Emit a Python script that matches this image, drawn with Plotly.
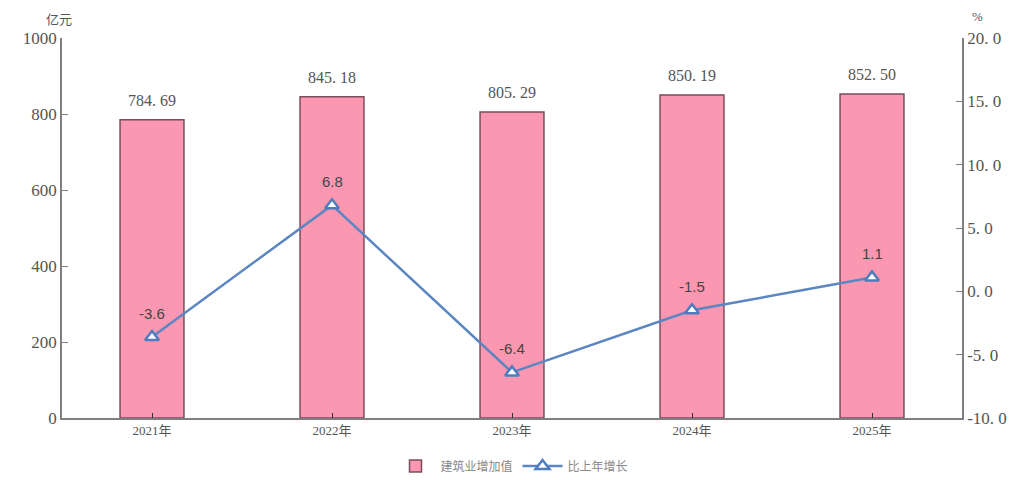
import plotly.graph_objects as go

# data
years = ["2021年", "2022年", "2023年", "2024年", "2025年"]
value_added = [784.69, 845.18, 805.29, 850.19, 852.50]
growth = [-3.6, 6.8, -6.4, -1.5, 1.1]

left_ticks = [0, 200, 400, 600, 800, 1000]
right_ticks = [-10.0, -5.0, 0.0, 5.0, 10.0, 15.0, 20.0]

SERIF = "Liberation Serif, Noto Sans CJK SC, serif"
SANS = "Liberation Sans, Arial, sans-serif"
GREY = "#555555"
AXIS = "#7f7f7f"

# the page body adds an 8px offset, so margins are shifted to compensate
W, H = 1024, 480
OFF = 8
L, T = 62 - OFF, 38 - OFF
R, B = W - (962 - OFF), H - (418 - OFF)
PW, PH = W - L - R, H - T - B


def spaced(v, digits):
    # the source puts a gap after the decimal point, e.g. "784. 69"
    return f"{v:.{digits}f}".replace(".", ". ")


fig = go.Figure()

fig.add_trace(go.Bar(
    x=years,
    y=value_added,
    name="建筑业增加值",
    width=0.355,
    marker=dict(color="#fb97b1", line=dict(color="#7a4d5c", width=1.5)),
))

fig.add_trace(go.Scatter(
    x=years,
    y=growth,
    yaxis="y2",
    name="比上年增长",
    mode="lines+markers",
    line=dict(color="#5b86c2", width=2.5),
    marker=dict(symbol="triangle-up", size=12, color="white",
                line=dict(color="#4f7cbf", width=2.5)),
))

notes = []
for yr, v in zip(years, value_added):
    notes.append(dict(x=yr, y=v, xref="x", yref="y", text=spaced(v, 2),
                      showarrow=False, yanchor="bottom", yshift=9,
                      font=dict(family=SERIF, size=16, color=GREY)))
for yr, g in zip(years, growth):
    notes.append(dict(x=yr, y=g, xref="x", yref="y2", text=f"{g:.1f}",
                      showarrow=False, yanchor="bottom", yshift=13,
                      font=dict(family=SANS, size=15, color="#444444")))
notes.append(dict(text="亿元", xref="paper", yref="paper",
                  x=(59 - OFF - L) / PW, y=1 + (T - (18 - OFF)) / PH,
                  xanchor="center", yanchor="middle", showarrow=False,
                  font=dict(family="Noto Sans CJK SC", size=13, color=GREY)))
notes.append(dict(text="%", xref="paper", yref="paper",
                  x=(977 - OFF - L) / PW, y=1 + (T - (17 - OFF)) / PH,
                  xanchor="center", yanchor="middle", showarrow=False,
                  font=dict(family=SERIF, size=13, color=GREY)))

fig.update_layout(
    width=W,
    height=H,
    margin=dict(l=L, r=R, t=T, b=B, autoexpand=False),
    paper_bgcolor="white",
    plot_bgcolor="white",
    font=dict(family=SERIF, size=14, color=GREY),
    showlegend=True,
    legend=dict(orientation="h", x=(520 - OFF) / W, xanchor="center",
                yref="container", y=1 - (466 - OFF) / H, yanchor="middle",
                font=dict(family="Noto Sans CJK SC", size=12, color="#888888"),
                itemwidth=40),
    xaxis=dict(
        range=[-0.5, 4.5], automargin=False,
        showline=True, linecolor=AXIS, linewidth=1.5,
        ticks="inside", ticklen=5, tickcolor="#333333",
        tickfont=dict(family=SERIF, size=13, color=GREY),
        showgrid=False,
    ),
    yaxis=dict(
        range=[0, 1000], automargin=False,
        tickvals=left_ticks,
        showline=True, linecolor=AXIS, linewidth=1.5,
        ticks="inside", ticklen=6, tickcolor=AXIS,
        tickfont=dict(family=SERIF, size=17, color=GREY),
        showgrid=False, zeroline=False,
    ),
    yaxis2=dict(
        range=[-10, 20], automargin=False,
        overlaying="y", side="right",
        tickvals=right_ticks,
        ticktext=[spaced(v, 1) for v in right_ticks],
        showline=True, linecolor=AXIS, linewidth=1.5,
        ticks="inside", ticklen=6, tickcolor=AXIS,
        tickfont=dict(family=SERIF, size=17, color=GREY),
        showgrid=False, zeroline=False,
    ),
    annotations=notes,
)

fig.write_html("out.html")
